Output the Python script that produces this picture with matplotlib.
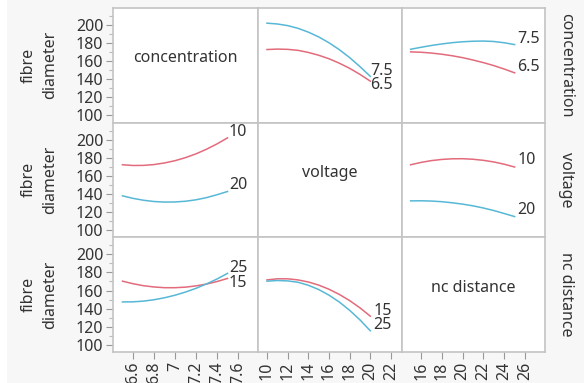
import matplotlib
matplotlib.use("Agg")
import matplotlib.pyplot as plt
from matplotlib.ticker import FixedLocator
from matplotlib.patches import Rectangle

plt.rcParams['font.family'] = ['Noto Sans', 'DejaVu Sans']

# factor levels along each x axis
conc = [6.5, 6.6, 6.7, 6.8, 6.9, 7.0, 7.1, 7.2, 7.3, 7.4, 7.5]
volt = [10, 11, 12, 13, 14, 15, 16, 17, 18, 19, 20]
dist = [15, 16, 17, 18, 19, 20, 21, 22, 23, 24, 25]

# row 1: traces for concentration 6.5 / 7.5
conc65_vs_volt = [173.0, 173.5, 173.2, 172.1, 169.8, 166.7, 162.8, 157.9, 152.2, 145.5, 138.0]
conc75_vs_volt = [202.2, 201.3, 199.5, 196.5, 192.3, 187.0, 180.5, 172.9, 164.1, 154.1, 143.3]
conc65_vs_dist = [170.4, 170.0, 169.1, 167.8, 166.1, 164.0, 161.4, 158.5, 155.2, 151.4, 147.2]
conc75_vs_dist = [173.3, 175.5, 177.5, 179.2, 180.6, 181.6, 182.2, 182.4, 181.9, 180.5, 178.5]

# row 2: traces for voltage 10 / 20
volt10_vs_conc = [172.2, 171.4, 171.5, 172.4, 174.2, 176.7, 180.1, 184.3, 189.4, 195.3, 202.0]
volt20_vs_conc = [137.8, 135.0, 132.9, 131.5, 130.9, 131.0, 131.8, 133.4, 135.8, 139.0, 142.6]
volt10_vs_dist = [172.2, 174.8, 176.8, 178.1, 178.8, 178.9, 178.3, 177.1, 175.3, 172.8, 169.7]
volt20_vs_dist = [132.2, 132.3, 132.0, 131.3, 130.1, 128.6, 126.7, 124.3, 121.5, 118.2, 114.8]

# row 3: traces for nc distance 15 / 25
dist15_vs_conc = [170.3, 167.5, 165.3, 163.9, 163.1, 163.1, 163.7, 165.1, 167.1, 169.9, 173.3]
dist25_vs_conc = [147.4, 147.5, 148.3, 149.8, 152.0, 154.8, 158.3, 162.4, 167.3, 172.7, 178.9]
dist15_vs_volt = [171.7, 172.9, 172.9, 171.7, 169.4, 166.0, 161.4, 155.7, 148.9, 140.9, 131.7]
dist25_vs_volt = [170.3, 171.0, 170.6, 169.1, 165.8, 161.1, 154.9, 147.3, 138.2, 127.6, 115.6]

factors = ['concentration', 'voltage', 'nc distance']
xdata = [conc, volt, dist]
xlims = [(6.41, 7.79), (9.13, 23.07), (14.17, 27.92)]
xticks = [[6.6, 6.8, 7.0, 7.2, 7.4, 7.6], [10, 12, 14, 16, 18, 20, 22], [16, 18, 20, 22, 24, 26]]
xticklabels = [['6.6', '6.8', '7', '7.2', '7.4', '7.6'],
               ['10', '12', '14', '16', '18', '20', '22'],
               ['16', '18', '20', '22', '24', '26']]

level_labels = [('6.5', '7.5'), ('10', '20'), ('15', '25')]
traces = {
    (0, 1): (conc65_vs_volt, conc75_vs_volt),
    (0, 2): (conc65_vs_dist, conc75_vs_dist),
    (1, 0): (volt10_vs_conc, volt20_vs_conc),
    (1, 2): (volt10_vs_dist, volt20_vs_dist),
    (2, 0): (dist15_vs_conc, dist25_vs_conc),
    (2, 1): (dist15_vs_volt, dist25_vs_volt),
}
# label offsets (points) for low / high level labels
offsets = {
    (0, 1): ((0, -3), (0, 4)),
    (0, 2): ((2, 4), (2, 4)),
    (1, 0): ((1, 4), (1, 5)),
    (1, 2): ((2, 5), (2, 5)),
    (2, 0): ((1, -3), (1, 4)),
    (2, 1): ((2, 4), (2, 4)),
}

red = '#e26b7c'
blue = '#57b8d6'
grid_col = '#c4c4c4'
txt = '#333333'
fs = 11.5

W, H = 584, 383
fig = plt.figure(figsize=(W / 100, H / 100), dpi=100, facecolor='#f7f7f7')
fig.patches.append(Rectangle((0, 0), 7 / W, 1, transform=fig.transFigure,
                             facecolor='white', edgecolor='none', zorder=-1))

col_x = [113, 258, 402, 545]
row_y = [8, 122.5, 237, 352]

for r in range(3):
    for c in range(3):
        x0, x1 = col_x[c], col_x[c + 1]
        y0, y1 = row_y[r], row_y[r + 1]
        ax = fig.add_axes([x0 / W, 1 - y1 / H, (x1 - x0) / W, (y1 - y0) / H])
        ax.set_facecolor('white')
        ax.set_xlim(*xlims[c])
        ax.set_ylim(92.2, 219)
        for s in ax.spines.values():
            s.set_color(grid_col)
            s.set_linewidth(1.2)
        ax.tick_params(colors='#999999', labelcolor=txt, labelsize=fs,
                       length=5, width=0.8, pad=2)
        ax.tick_params(which='minor', colors='#bbbbbb', length=3, width=0.8)
        ax.yaxis.set_major_locator(FixedLocator([100, 120, 140, 160, 180, 200]))
        ax.yaxis.set_minor_locator(FixedLocator([110, 130, 150, 170, 190, 210]))
        ax.xaxis.set_major_locator(FixedLocator(xticks[c]))
        ax.set_xticklabels(xticklabels[c], rotation=90)
        if c != 0:
            ax.tick_params(axis='y', which='both', left=False, labelleft=False)
        if r != 2:
            ax.tick_params(axis='x', which='both', bottom=False, labelbottom=False)

        if r == c:
            ax.text(0.5, 0.56, factors[r], transform=ax.transAxes, ha='center',
                    va='center', fontsize=fs, color=txt)
            continue

        lo, hi = traces[(r, c)]
        xs = xdata[c]
        ax.plot(xs, lo, color=red, lw=1.1)
        ax.plot(xs, hi, color=blue, lw=1.1)
        for ys, lab, off in zip((lo, hi), level_labels[r], offsets[(r, c)]):
            ax.annotate(lab, (xs[-1], ys[-1]), xytext=off, textcoords='offset points',
                        ha='left', va='center', fontsize=fs, color=txt)

for r in range(3):
    yc = 1 - (row_y[r] + row_y[r + 1]) / 2 / H
    fig.text(39 / W, yc, 'fibre\ndiameter', rotation=90, ha='center', va='center',
             multialignment='center', linespacing=1.45, fontsize=fs, color=txt)
    fig.text(566 / W, yc, factors[r], rotation=-90, ha='center', va='center',
             fontsize=fs, color=txt)

fig.savefig('out.png', dpi=100, facecolor=fig.get_facecolor())
